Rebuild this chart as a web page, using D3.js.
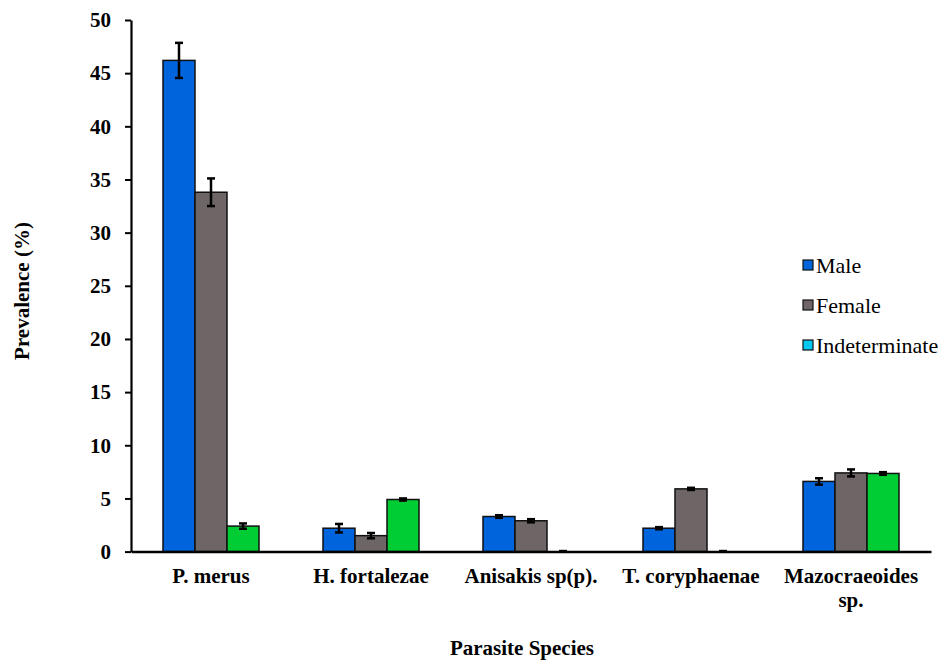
<!DOCTYPE html>
<html>
<head>
<meta charset="utf-8">
<script src="https://cdn.jsdelivr.net/npm/d3@7"></script>
<style>
  html, body { margin: 0; padding: 0; background: #fff; }
  svg text { font-family: "Liberation Serif", "Times New Roman", Times, "DejaVu Serif", serif !important; }
</style>
</head>
<body>
<svg id="chart" width="942" height="662"></svg>
<script>
// Parasite species (x categories)
const species = ["P. merus", "H. fortalezae", "Anisakis sp(p).", "T. coryphaenae", "Mazocraeoides sp."];
// Host sex groups (series)
const groups = ["Male", "Female", "Indeterminate"];
// Prevalence (%) per species for each group
const maleValues = [46.2, 2.2, 3.3, 2.2, 6.6];
const femaleValues = [33.8, 1.5, 2.9, 5.9, 7.4];
const indeterminateValues = [2.4, 4.9, 0, 0, 7.35];
// Error bar half-widths
const maleErrors = [1.65, 0.4, 0.12, 0.1, 0.3];
const femaleErrors = [1.3, 0.25, 0.15, 0.1, 0.33];
const indeterminateErrors = [0.25, 0.1, 0.05, 0.05, 0.12];
// Y axis ticks
const yTicks = [0, 5, 10, 15, 20, 25, 30, 35, 40, 45, 50];

const barColors = ["#0064DC", "#6E6666", "#00CC33"];
const legendColors = ["#0064DC", "#6E6666", "#00C8F0"];

const seriesValues = [maleValues, femaleValues, indeterminateValues];
const seriesErrors = [maleErrors, femaleErrors, indeterminateErrors];

const FONT = '"Liberation Serif", "Times New Roman", Times, serif';

const margin = { left: 131, right: 11, top: 20 };
const W = 942;
const plotW = W - margin.left - margin.right;   // 800
const plotH = 531.6;

const svg = d3.select("#chart");
const g = svg.append("g").attr("transform", `translate(${margin.left},${margin.top})`);

const x = d3.scaleBand().domain(species).range([0, plotW]).paddingInner(0.4).paddingOuter(0.2);
const xs = d3.scaleBand().domain(groups).range([0, x.bandwidth()]);
const y = d3.scaleLinear().domain([0, 50]).range([plotH, 0]);

// Bars
const rows = [];
species.forEach((sp, i) => {
  groups.forEach((gr, j) => {
    rows.push({ sp, gr, j, v: seriesValues[j][i], e: seriesErrors[j][i] });
  });
});

g.selectAll("rect.bar").data(rows).join("rect")
  .attr("class", "bar")
  .attr("x", d => x(d.sp) + xs(d.gr))
  .attr("width", xs.bandwidth())
  .attr("y", d => y(d.v))
  .attr("height", d => y(0) - y(d.v))
  .attr("fill", d => barColors[d.j])
  .attr("stroke", d => d.v > 0 ? "#111" : "none")
  .attr("stroke-width", 1.5);

// Error bars
const eb = g.selectAll("g.err").data(rows).join("g").attr("class", "err")
  .attr("transform", d => `translate(${x(d.sp) + xs(d.gr) + xs.bandwidth() / 2},0)`);
eb.append("line")
  .attr("y1", d => y(d.v + d.e)).attr("y2", d => y(Math.max(0, d.v - d.e)))
  .attr("stroke", "#000").attr("stroke-width", 2.5);
eb.append("line")
  .attr("x1", -4).attr("x2", 4)
  .attr("y1", d => y(d.v + d.e)).attr("y2", d => y(d.v + d.e))
  .attr("stroke", "#000").attr("stroke-width", 2.5);
eb.append("line")
  .attr("x1", -4).attr("x2", 4)
  .attr("y1", d => y(Math.max(0, d.v - d.e))).attr("y2", d => y(Math.max(0, d.v - d.e)))
  .attr("stroke", "#000").attr("stroke-width", 2.5);

// Y axis
const yAxis = g.append("g").call(d3.axisLeft(y).tickValues(yTicks).tickSize(6).tickSizeOuter(0).tickPadding(14));
yAxis.attr("font-family", FONT);
yAxis.select(".domain").attr("stroke", "#000").attr("stroke-width", 2.2);
yAxis.selectAll(".tick line").attr("stroke", "#000").attr("stroke-width", 2);
yAxis.selectAll(".tick text")
  .attr("font-family", FONT)
  .attr("font-weight", "bold").attr("font-size", 21).attr("fill", "#000");

// X axis (line only, no ticks)
const xAxis = g.append("g").attr("transform", `translate(0,${y(0)})`)
  .call(d3.axisBottom(x).tickSize(0).tickSizeOuter(0).tickFormat(""));
xAxis.select(".domain").attr("stroke", "#000").attr("stroke-width", 2.5);

// Category labels (long ones wrap onto two lines)
const labelLines = { "Mazocraeoides sp.": ["Mazocraeoides", "sp."] };
species.forEach(sp => {
  const lines = labelLines[sp] || [sp];
  const t = g.append("text")
    .attr("x", x(sp) + x.bandwidth() / 2)
    .attr("y", y(0) + 31)
    .attr("text-anchor", "middle")
    .attr("font-family", FONT)
    .attr("font-weight", "bold").attr("font-size", 21).attr("fill", "#000");
  lines.forEach((ln, k) => {
    t.append("tspan").attr("x", x(sp) + x.bandwidth() / 2).attr("dy", k === 0 ? 0 : 24).text(ln);
  });
});

// Axis titles
svg.append("text")
  .attr("x", margin.left + plotW / 2 - 9).attr("y", 655)
  .attr("text-anchor", "middle").attr("font-family", FONT)
  .attr("font-weight", "bold").attr("font-size", 21).text("Parasite Species");

svg.append("text")
  .attr("transform", "translate(29,291) rotate(-90)")
  .attr("text-anchor", "middle").attr("font-family", FONT)
  .attr("font-weight", "bold").attr("font-size", 21).text("Prevalence (%)");

// Legend
const legend = svg.append("g").attr("transform", "translate(803,260)");
groups.forEach((gr, i) => {
  const row = legend.append("g").attr("transform", `translate(0,${i * 40})`);
  row.append("rect").attr("x", 0).attr("y", 0).attr("width", 10).attr("height", 10)
    .attr("fill", legendColors[i]).attr("stroke", "#111").attr("stroke-width", 1.2);
  row.append("text").attr("x", 13).attr("y", 12.5).attr("font-family", FONT)
    .attr("font-size", 22).attr("fill", "#000").text(gr);
});
</script>
</body>
</html>
